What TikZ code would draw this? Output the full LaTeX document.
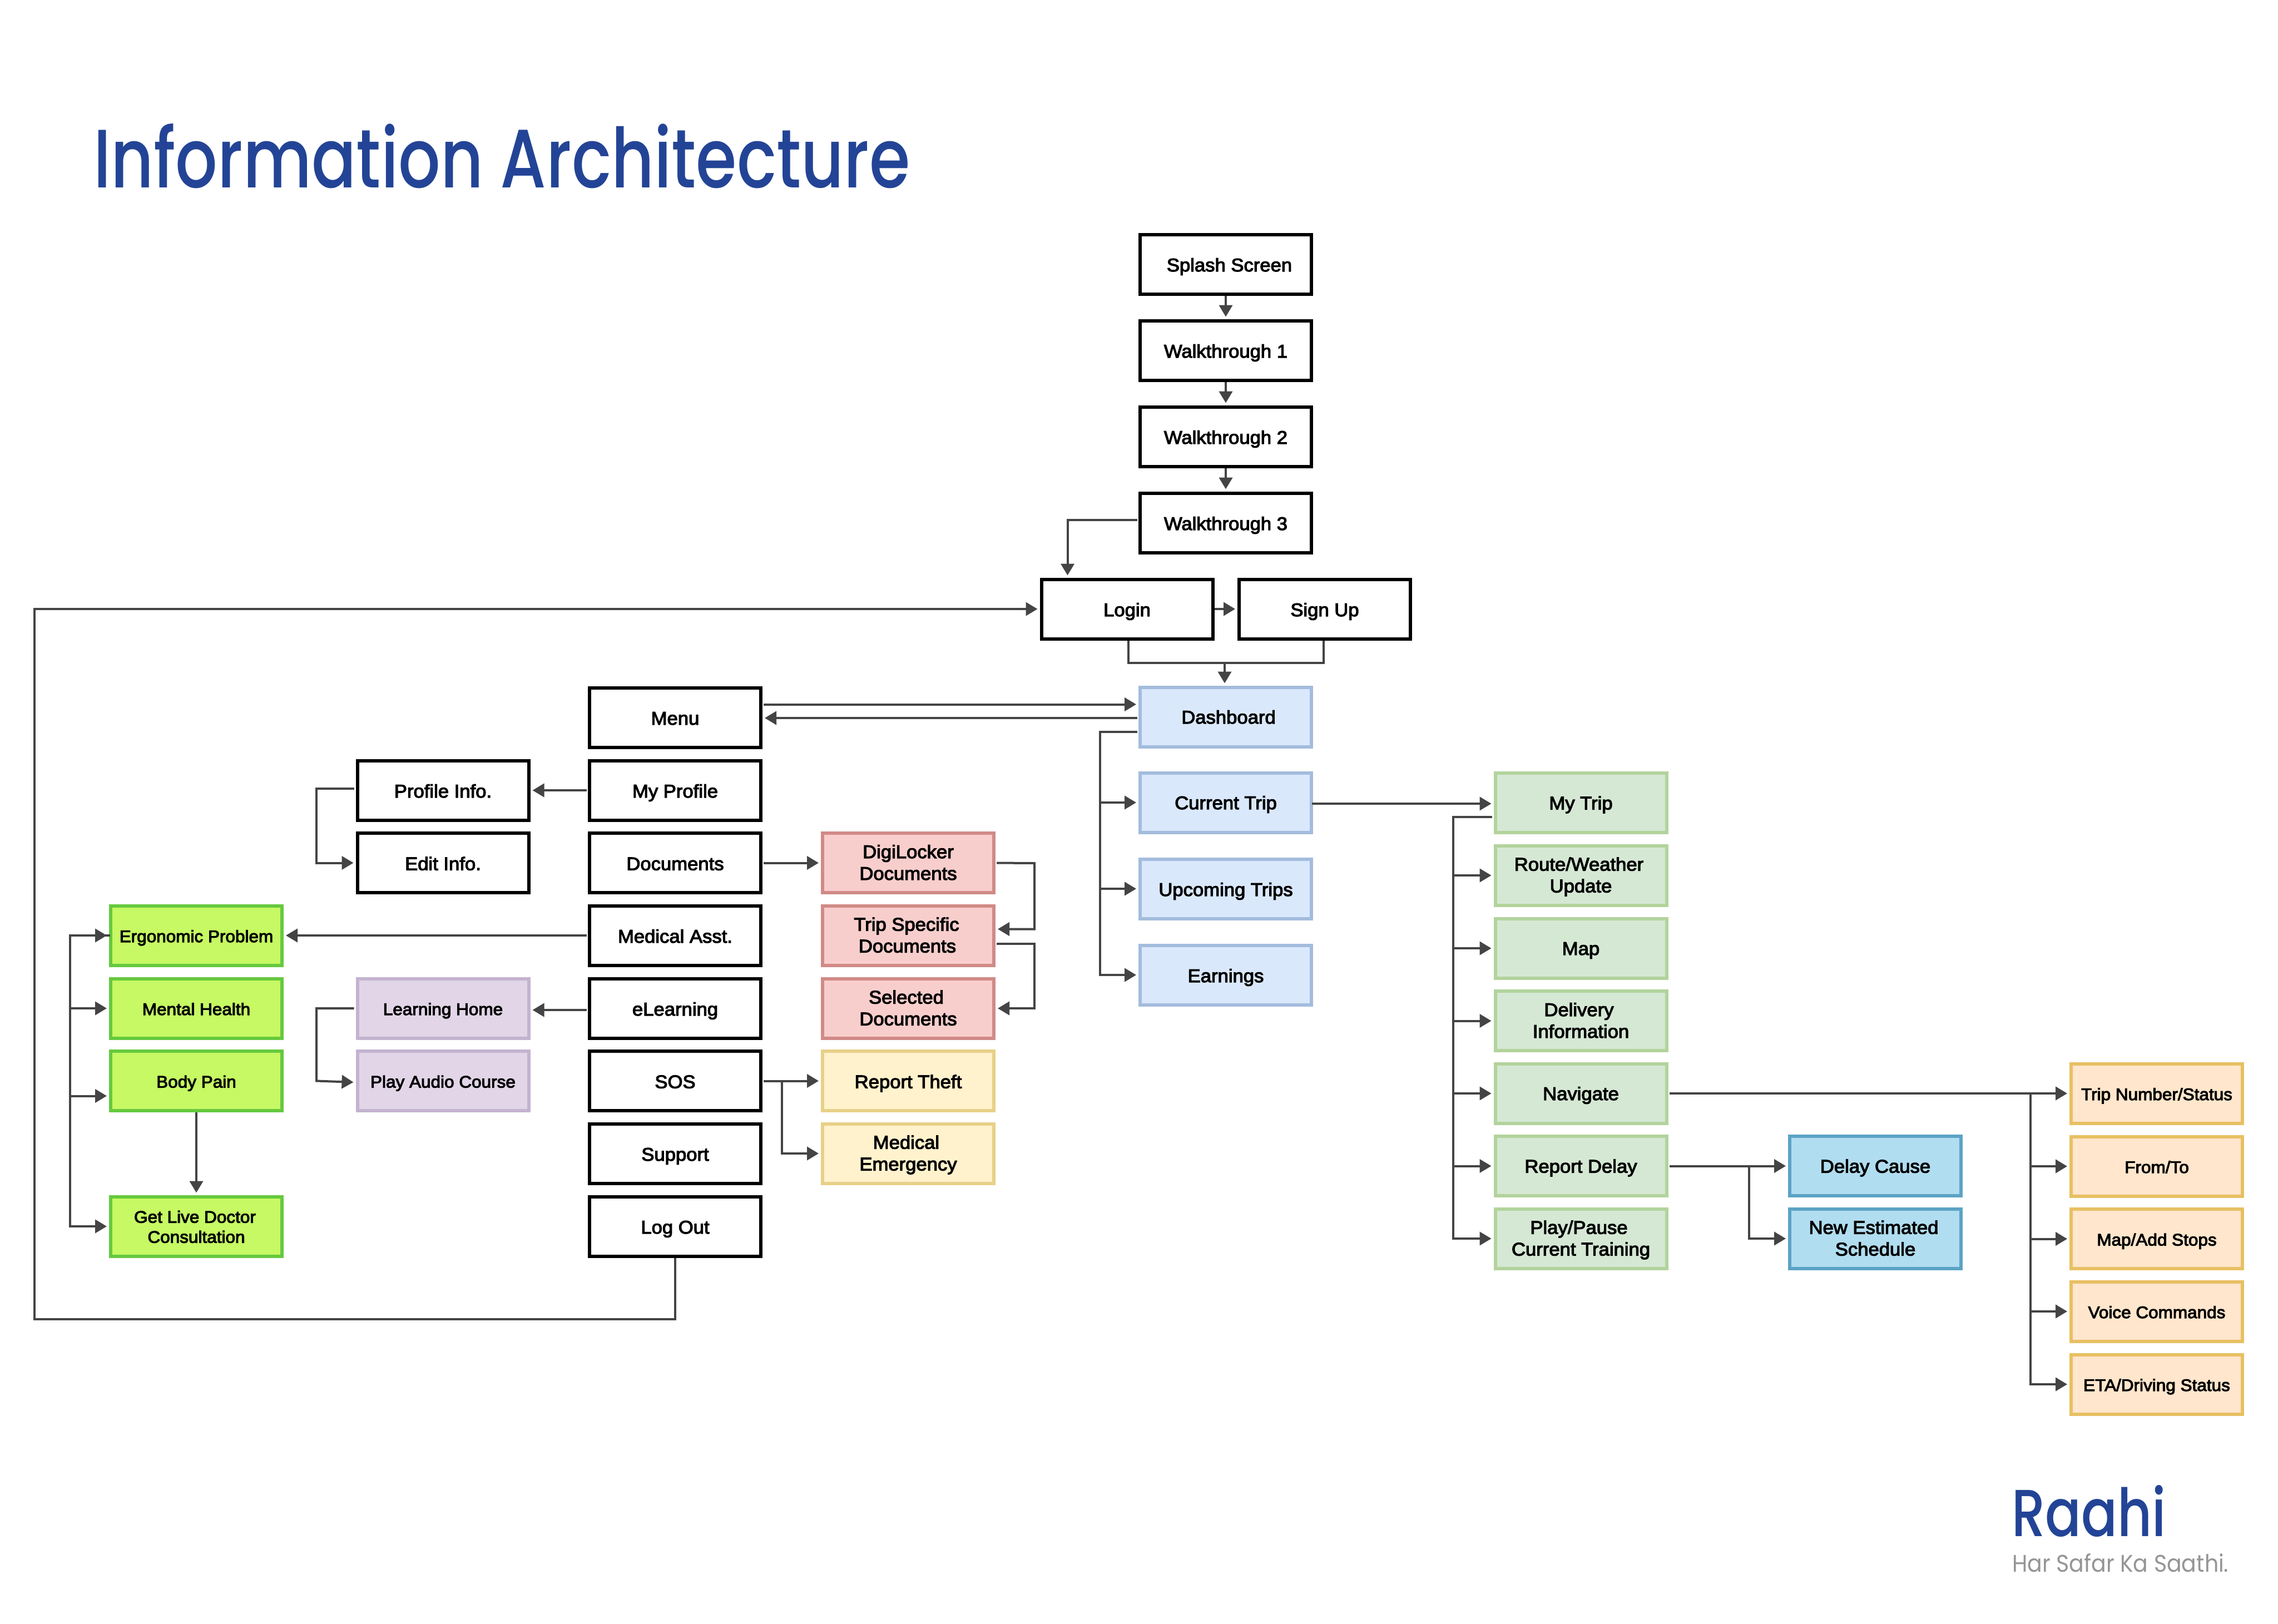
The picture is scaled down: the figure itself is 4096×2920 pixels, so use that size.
\documentclass[tikz,border=0pt]{standalone}
\usepackage{fontspec}
\usepackage{graphicx}
\usetikzlibrary{arrows.meta,calc}
\setmainfont{Liberation Sans}[FakeBold=3.5,FakeStretch=1.05]
\newfontfamily\brandfont{Poppins Medium}
\newfontfamily\tagfont{Poppins}
\definecolor{cline}{HTML}{444444}
\definecolor{brand}{HTML}{234496}
\definecolor{tagc}{HTML}{959595}
\newcommand{\bigtxt}{\fontsize{33}{39}\selectfont}
\newcommand{\smltxt}{\fontsize{30}{36}\selectfont}
\tikzset{
  x=1pt,y=-1pt,
  boxbase/.style={rectangle,draw,line width=6pt,minimum width=308pt,minimum height=107pt,inner sep=0pt,align=center,font=\bigtxt,text=black,text height=33pt,text depth=7pt},
  smalltext/.style={font=\smltxt,text height=31pt},
  raised/.style={text height=31pt},
  two/.style={text height=70pt,text depth=9pt},
  blk/.style={boxbase,draw=black,fill=white},
  blu/.style={boxbase,draw=blueb,fill=bluef},
  pnk/.style={boxbase,two,draw=pinkb,fill=pinkf},
  yel/.style={boxbase,draw=yelb,fill=yelf},
  lim/.style={boxbase,smalltext,draw=limeb,fill=limef},
  prp/.style={boxbase,smalltext,draw=purb,fill=purf},
  grn/.style={boxbase,raised,draw=grnb,fill=grnf},
  sky/.style={boxbase,raised,draw=skyb,fill=skyf},
  org/.style={boxbase,smalltext,draw=orgb,fill=orgf},
  link/.style={draw=cline,line width=4pt,line cap=rect,shorten <=4pt},
  conn/.style={link,shorten >=4pt,-{Triangle[length=21pt,width=24pt]}},
  stem/.style={draw=cline,line width=4pt,shorten >=4pt,-{Triangle[length=21pt,width=24pt]}},
  joint/.style={draw=cline,line width=4pt},
}
\definecolor{blueb}{HTML}{A3BCDD}\definecolor{bluef}{HTML}{DAE8FC}
\definecolor{pinkb}{HTML}{D18A87}\definecolor{pinkf}{HTML}{F8CECC}
\definecolor{yelb}{HTML}{E8D088}\definecolor{yelf}{HTML}{FFF2CC}
\definecolor{limeb}{HTML}{66C93E}\definecolor{limef}{HTML}{C6F963}
\definecolor{purb}{HTML}{C4B3CF}\definecolor{purf}{HTML}{E1D5E7}
\definecolor{grnb}{HTML}{B3D39C}\definecolor{grnf}{HTML}{D5E8D4}
\definecolor{skyb}{HTML}{5BA3C5}\definecolor{skyf}{HTML}{B1DDF0}
\definecolor{orgb}{HTML}{E8C063}\definecolor{orgf}{HTML}{FFE6CC}
\begin{document}
\begin{tikzpicture}
\useasboundingbox (0,0) rectangle (4096,2920);
\fill[white] (0,0) rectangle (4096,2920);
% heading and brand
\node[anchor=base west,inner sep=0pt,text=brand] (title) at (168,337) {\resizebox{1468pt}{115pt}{\brandfont\fontsize{100}{120}\selectfont Information Architecture}};
\node[anchor=base west,inner sep=0pt,text=brand] (raahi) at (3617,2762) {\resizebox{278pt}{92pt}{\brandfont\fontsize{100}{120}\selectfont Raahi}};
\node[anchor=base west,inner sep=0pt,text=tagc] (tag) at (3618,2826) {\resizebox{389pt}{33pt}{\tagfont\fontsize{40}{48}\selectfont Har Safar Ka Saathi.}};
% top chain
\node[blk] (splash) at (2204,475) {\hspace*{13pt}Splash Screen};
\node[blk] (wt1) at (2204,630) {Walkthrough 1};
\node[blk] (wt2) at (2204,785) {Walkthrough 2};
\node[blk] (wt3) at (2204,940) {Walkthrough 3};
\node[blk] (login) at (2026.5,1095) {Login};
\node[blk] (signup) at (2382,1095) {Sign Up};
% dashboard column
\node[blu,raised] (dash) at (2204,1289) {\hspace*{10pt}Dashboard};
\node[blu,raised] (current) at (2204,1443) {Current Trip};
\node[blu] (upcoming) at (2204,1598) {Upcoming Trips};
\node[blu] (earnings) at (2204,1753) {Earnings};
% menu column
\node[blk] (menu) at (1214,1290) {Menu};
\node[blk] (myprofile) at (1214,1421) {My Profile};
\node[blk] (documents) at (1214,1551.5) {Documents};
\node[blk] (medical) at (1214,1682) {Medical Asst.};
\node[blk] (elearning) at (1214,1813) {eLearning};
\node[blk] (sos) at (1214,1943.5) {SOS};
\node[blk] (support) at (1214,2074) {Support};
\node[blk] (logout) at (1214,2205) {Log Out};
% profile / learning column
\node[blk] (profinfo) at (796.5,1421) {Profile Info.};
\node[blk] (editinfo) at (796.5,1551.5) {Edit Info.};
\node[prp] (learnhome) at (796.5,1813) {Learning Home};
\node[prp] (playaudio) at (796.5,1943.5) {Play Audio Course};
% lime column
\node[lim] (ergo) at (353,1682) {Ergonomic Problem};
\node[lim] (mental) at (353,1813) {Mental Health};
\node[lim] (body) at (353,1943.5) {Body Pain};
\node[lim,text height=68pt,text depth=9pt] (live) at (353,2205) {Get Live Doctor\hspace*{5pt}\\Consultation};
% documents column
\node[pnk] (digi) at (1633,1551.5) {DigiLocker\\Documents};
\node[pnk] (tripdocs) at (1633,1682) {Trip Specific\hspace*{6pt}\\Documents\hspace*{3pt}};
\node[pnk] (seldocs) at (1633,1813) {Selected\hspace*{7pt}\\Documents};
\node[yel] (theft) at (1633,1943.5) {Report Theft};
\node[yel,two] (emerg) at (1633,2074) {Medical\hspace*{7pt}\\Emergency};
% trip column
\node[grn] (mytrip) at (2842.5,1443.5) {My Trip};
\node[grn,two] (route) at (2842.5,1574) {Route/Weather\hspace*{7pt}\\Update};
\node[grn] (map) at (2842.5,1705) {Map};
\node[grn,two] (delivery) at (2842.5,1835.5) {Delivery\hspace*{7pt}\\Information};
\node[grn] (navigate) at (2842.5,1966) {Navigate};
\node[grn] (rdelay) at (2842.5,2096.5) {Report Delay};
\node[grn,two] (playpause) at (2842.5,2227) {Play/Pause\hspace*{7pt}\\Current Training};
% delay column
\node[sky] (dcause) at (3372,2096.5) {Delay Cause};
\node[sky,two] (newest) at (3372,2227) {New Estimated\hspace*{6pt}\\Schedule};
% orange column
\node[org] (tripnum) at (3878,1966) {Trip Number/Status};
\node[org] (fromto) at (3878,2097) {From/To};
\node[org] (mapadd) at (3878,2227.5) {Map/Add Stops};
\node[org] (voice) at (3878,2358) {Voice Commands};
\node[org] (eta) at (3878,2489) {ETA/Driving Status};
% named bends and free ends
\coordinate (wtexit) at ($(wt3.west)+(0,-5)$);
\coordinate (loginin) at ($(login.north west)+(50,0)$);
\coordinate (mergeL) at ($(login.south)+(2,40)$);
\coordinate (mergeR) at ($(signup.south)+(-2,40)$);
\coordinate (mergeM) at ($(dash.north |- mergeL)+(-2,0)$);
\coordinate (dashin) at ($(dash.north)+(-2,0)$);
\coordinate (loopB) at (1214,2372);
\coordinate (loopL) at (62,2372);
\coordinate (loopT) at (62,1095);
\coordinate (dbus) at (1978,1315.5);
\coordinate (gbus) at (125.6,0);
\coordinate (pbus) at (569,0);
\coordinate (tbus) at (2612.5,1469);
\coordinate (obus) at (3651,1966);
\coordinate (rbus) at (3145,2097);
\coordinate (sbus) at (1405.5,1944);
\coordinate (dright) at (1860,1552);
\coordinate (tright) at (1860,1696.6);
% top chain connectors
\draw[stem] (splash) -- (wt1);
\draw[stem] (wt1) -- (wt2);
\draw[stem] (wt2) -- (wt3);
\draw[conn] (wtexit) -| (loginin);
\draw[conn,shorten <=2pt] (login) -- (signup);
\draw[joint] (login.south -| mergeL) |- (mergeR) -- (signup.south -| mergeR);
\draw[stem] (mergeM) -- (dashin);
\draw[stem] (logout.south) -- (loopB) -- (loopL) -- (loopT) -- (login.west);
% dashboard and menu
\draw[conn] ($(menu.east)+(0,-23.5)$) -- ($(dash.west)+(0,-22.5)$);
\draw[conn] ($(dash.west)+(0,2)$) -- ($(menu.east)+(0,1)$);
\draw[link] ($(dash.west)+(0,26.5)$) -- (dbus);
\draw[stem] (dbus) |- (earnings.west);
\draw[stem] (dbus |- current) -- (current.west);
\draw[stem] (dbus |- upcoming) -- (upcoming.west);
% menu outwards
\draw[conn] (myprofile) -- (profinfo);
\draw[conn] (documents) -- (digi);
\draw[conn] (medical) -- (ergo);
\draw[conn] ($(elearning.west)+(0,3)$) -- ($(learnhome.east)+(0,3)$);
\draw[conn] (sos) -- (theft);
\draw[stem] (sbus) |- (emerg.west);
% profile and learning branches
\draw[stem] ($(profinfo.west)+(-3,-3)$) -| (pbus |- editinfo) -- (editinfo.west);
\draw[stem] ($(learnhome.west)+(-3,0)$) -| (pbus |- playaudio) -- ($(playaudio.west)+(0,2.5)$);
% lime bus
\draw[joint,line cap=rect] (gbus |- ergo) -- (ergo.west);
\draw[stem] (gbus |- ergo) -- (ergo.west);
\draw[stem,line cap=rect] (gbus |- ergo) |- (live.west);
\draw[stem,line cap=rect] (gbus |- mental) -- (mental.west);
\draw[stem,line cap=rect] ($(gbus |- body)+(0,27)$) -- ($(body.west)+(0,27)$);
\draw[stem] (body.south) -- (live.north);
% document chain
\draw[conn] (digi.east) -- (dright) |- ($(tripdocs.east)+(0,-11.5)$);
\draw[conn] ($(tripdocs.east)+(0,14.6)$) -- (tright) |- (seldocs.east);
% trip bus
\draw[conn] ($(current.east)+(-4,2)$) -- ($(mytrip.west)+(0,1.5)$);
\draw[link,shorten <=5pt] ($(mytrip.west)+(0,25.5)$) -- (tbus);
\draw[stem] (tbus) |- (playpause.west);
\draw[stem] (tbus |- route) -- (route.west);
\draw[stem] (tbus |- map) -- (map.west);
\draw[stem] (tbus |- delivery) -- (delivery.west);
\draw[stem] (tbus |- navigate) -- (navigate.west);
\draw[stem] (tbus |- rdelay) -- (rdelay.west);
% navigate outwards
\draw[conn] (navigate) -- (tripnum);
\draw[stem] (obus) |- (eta.west);
\draw[stem] (obus |- fromto) -- (fromto.west);
\draw[stem] (obus |- mapadd) -- (mapadd.west);
\draw[stem] (obus |- voice) -- (voice.west);
% report delay outwards
\draw[conn] (rdelay) -- (dcause);
\draw[stem] (rbus) |- (newest.west);
\end{tikzpicture}
\end{document}
